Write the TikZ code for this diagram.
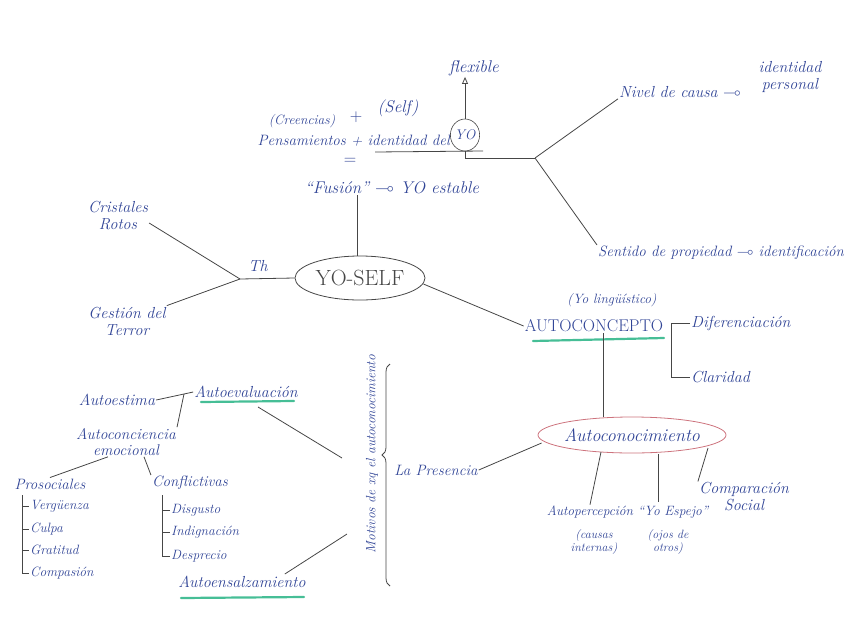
\documentclass[tikz,border=0pt]{standalone}
\usepackage{amsmath}
\usepackage{amssymb}
\usepackage{xcolor}
\usepackage{tikz}
\usetikzlibrary{arrows.meta,decorations.pathreplacing,shapes.geometric}

\definecolor{tinta}{RGB}{48,68,150}
\definecolor{lapiz}{RGB}{70,70,70}
\definecolor{verde}{RGB}{70,190,150}
\definecolor{rojo}{RGB}{205,115,125}

\begin{document}
\begin{tikzpicture}[x=1pt,y=-1pt,
    hand/.style={text=tinta, font=\itshape\fontsize{16}{17}\selectfont, inner sep=1pt, align=center},
    menor/.style={hand, font=\itshape\fontsize{14}{15}\selectfont},
    chica/.style={hand, font=\itshape\fontsize{12}{12}\selectfont},
    rama/.style={draw=lapiz, line width=0.8pt},
    subraya/.style={draw=verde, line width=2.2pt, line cap=round}]
    \useasboundingbox (0,0) rectangle (848,616);

    % centro
    \node[ellipse, draw=lapiz, line width=0.8pt, minimum width=130, minimum height=44, inner xsep=-12pt, inner ysep=0pt,
          text=lapiz, font=\fontsize{22}{22}\selectfont] (yoself) at (360,278) {YO-SELF};

    % parte de arriba
    \node[hand, font=\itshape\fontsize{17}{17}\selectfont] (flexible) at (474,68) {flexible};
    \node[chica, font=\itshape\fontsize{13.5}{14}\selectfont] (creencias) at (302,121) {(Creencias)};
    \node[hand] (mas) at (356,117) {$+$};
    \node[hand, font=\itshape\fontsize{17}{17}\selectfont] (self) at (398,108) {(Self)};
    \node[hand, anchor=east, font=\itshape\fontsize{15}{16}\selectfont] (pensam) at (451,141) {Pensamientos + identidad del};
    \node[ellipse, draw=lapiz, line width=0.6pt, inner sep=0pt, minimum width=25, minimum height=32, text=tinta,
          font=\itshape\fontsize{14}{14}\selectfont] (yo) at (465,135) {YO};
    \node[hand] (igual) at (350,161) {$=$};
    \node[hand, font=\itshape\fontsize{17}{17}\selectfont] (fusion) at (392,188) {``Fusión'' $\multimap$ YO estable};
    \coordinate (sub1) at (375,152);
    \coordinate (sub2) at (483,151);
    \coordinate (bif) at (535,158);
    \draw[rama] (sub1) -- (sub2);
    \draw[rama, -{Triangle[open, length=7pt, width=6pt]}] (yo.north) -- (flexible.south -| yo.north);
    \draw[rama] (yo.south) |- (bif);
    \draw[rama] (fusion.south -| 357,0) -- (yoself.north -| 357,0);

    \node[hand, anchor=west] (nivel) at (618,92) {Nivel de causa $\multimap$};
    \node[hand] (personal) at (790,77) {identidad\\personal};
    \node[hand, anchor=west, font=\itshape\fontsize{15}{16}\selectfont] (sentido) at (597,253) {Sentido de propiedad $\multimap$ identificación};
    \draw[rama] (bif) -- (nivel.south west);
    \draw[rama] (bif) -- (sentido.north west);

    % izquierda
    \coordinate (th) at (240,279);
    \node[hand] (thlab) at (258,266) {Th};
    \node[hand] (cristales) at (118,216) {Cristales\\Rotos};
    \node[hand] (gestion) at (127,321) {Gestión del\\Terror};
    \draw[rama] (yoself.west) -- (th);
    \draw[rama] (th) -- (cristales.east |- 0,223);
    \draw[rama] (th) -- (gestion.north east);

    % autoconcepto
    \node[text=tinta, font=\fontsize{17}{17}\selectfont, inner sep=1pt] (autoconcepto) at (594,326) {AUTOCONCEPTO};
    \node[chica, font=\itshape\fontsize{13.5}{14}\selectfont] (yoling) at (612,300) {(Yo lingüístico)};
    \draw[subraya] (533,341) -- (664,338);
    \draw[rama] (yoself.east) ++(-2,6) -- (autoconcepto.west);
    \node[hand, anchor=west] (difer) at (690,323) {Diferenciación};
    \node[hand, anchor=west] (claridad) at (690,377) {Claridad};
    \draw[rama] (difer.west) -- ++(-19,0) |- (claridad.west);

    % autoconocimiento
    \node[ellipse, draw=rojo, line width=0.8pt, minimum width=188, minimum height=36, inner xsep=-14pt, inner ysep=0pt,
          text=tinta, font=\itshape\fontsize{18}{18}\selectfont] (autoconoc) at (632,435) {Autoconocimiento};
    \draw[rama] (autoconcepto.south -| 603,0) -- (autoconoc.north -| 603,0);
    \node[menor, font=\itshape\fontsize{15}{16}\selectfont] (presencia) at (436,470) {La Presencia};
    \draw[rama] (autoconoc.west) ++(4,8) -- (presencia.east);
    \node[menor, font=\itshape\fontsize{13.5}{14}\selectfont] (autoperc) at (590,512) {Autopercepción};
    \node[chica] (causas) at (594,542) {(causas\\internas)};
    \node[menor, font=\itshape\fontsize{13.5}{14}\selectfont] (espejo) at (673,512) {``Yo Espejo''};
    \node[chica] (ojos) at (668,542) {(ojos de\\otros)};
    \node[hand] (compar) at (744,497) {Comparación\\Social};
    \draw[rama] (601,452) -- (autoperc.north);
    \draw[rama] (658,454) -- (658,502);
    \draw[rama] (708,448) -- (compar.north west);

    % motivos
    \draw[rama, decorate, decoration={brace, amplitude=8pt, aspect=0.59}] (390,586) -- (390,364);
    \node[chica, rotate=90, font=\itshape\fontsize{13.5}{14}\selectfont] (motivos) at (372,454) {Motivos de xq el autoconocimiento};
    \coordinate (m1) at (342,458);
    \coordinate (m2) at (347,534);

    \node[hand] (autoeval) at (246,392) {Autoevaluación};
    \draw[subraya] (201,402) -- (294,401);
    \draw[rama] (autoeval.south) ++(12,8) -- (m1);
    \node[hand] (autoensal) at (242,582) {Autoensalzamiento};
    \draw[subraya] (181,598) -- (304,597);
    \draw[rama] (autoensal.north east) ++(-22,-1) -- (m2);

    \node[hand] (autoestima) at (117,400) {Autoestima};
    \coordinate (bif2) at (184,394);
    \node[hand, font=\itshape\fontsize{15.5}{16}\selectfont] (autoconc) at (126,442) {Autoconciencia\\emocional};
    \draw[rama] (autoestima.east) -- (bif2) -- (autoeval.west);
    \draw[rama] (bif2) -- (autoconc.north east);

    \node[menor, font=\itshape\fontsize{15}{16}\selectfont] (prosoc) at (50,484) {Prosociales};
    \node[menor, font=\itshape\fontsize{15}{16}\selectfont] (conflic) at (190,483) {Conflictivas};
    \draw[rama] (autoconc.south) ++(-18,0) -- (prosoc.north);
    \draw[rama] (autoconc.south) ++(18,0) -- (conflic.north west);

    \draw[rama] (22,495) -- (22,574);
    \foreach \nm/\yy/\txt in {verg/506/Vergüenza, culpa/529/Culpa, grat/550/Gratitud, comp/573/Compasión} {
        \node[chica, anchor=west, font=\itshape\fontsize{13.5}{14}\selectfont] (\nm) at (29,\yy) {\txt};
        \draw[rama] (22,\yy) -- (\nm.west);
    }
    \draw[rama] (162,495) -- (162,556);
    \foreach \nm/\yy/\txt in {disg/510/Disgusto, indig/532/Indignación, despr/556/Desprecio} {
        \node[chica, anchor=west, font=\itshape\fontsize{13.5}{14}\selectfont] (\nm) at (170,\yy) {\txt};
        \draw[rama] (162,\yy) -- (\nm.west);
    }
\end{tikzpicture}
\end{document}
